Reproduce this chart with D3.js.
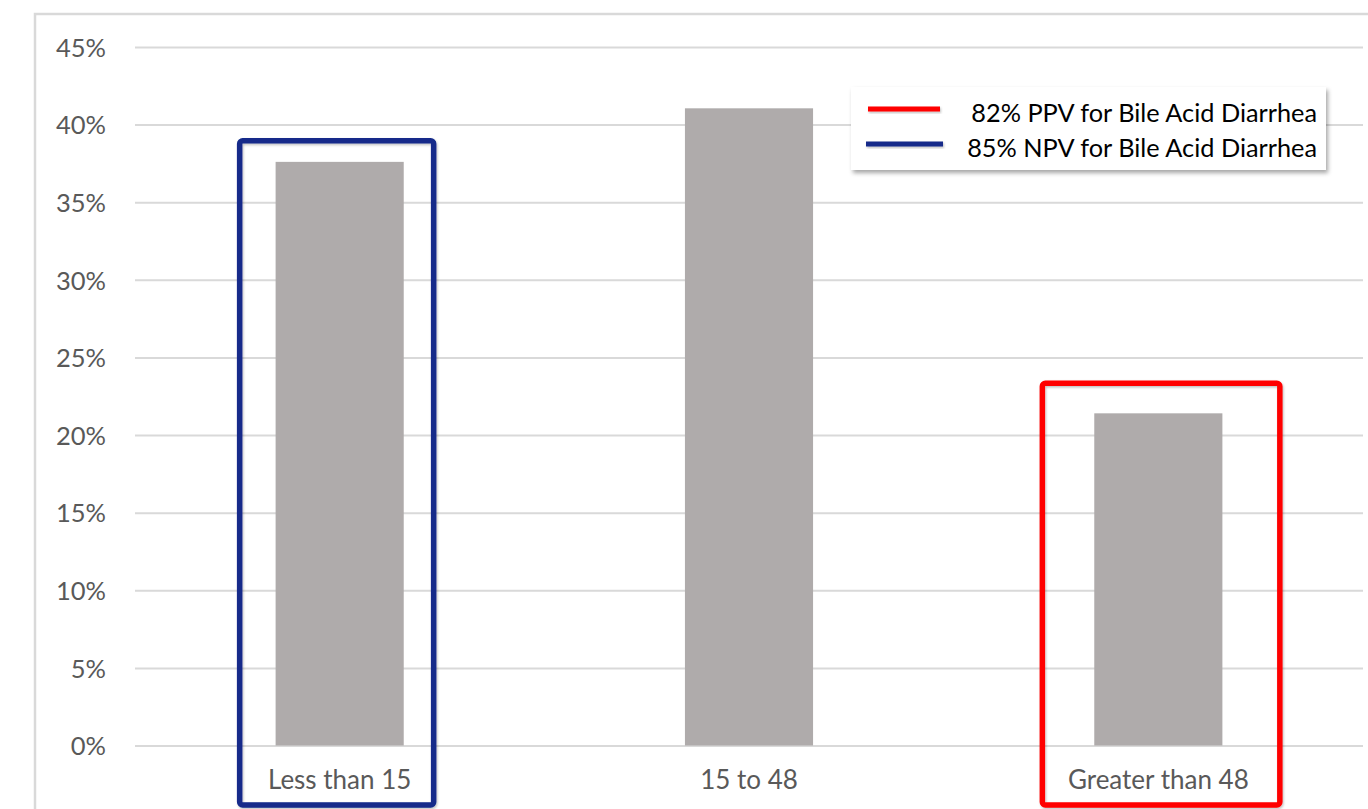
<!DOCTYPE html>
<html>
<head>
<meta charset="utf-8">
<script src="https://cdn.jsdelivr.net/npm/d3@7"></script>
<style>
  html, body { margin: 0; padding: 0; background: #fff; overflow: hidden; }
  svg { display: block; }
</style>
</head>
<body>
<svg id="chart" width="1368" height="809"></svg>
<script>
// Share of patients by category
const categories = ["Less than 15", "15 to 48", "Greater than 48"];
const shares = [0.376, 0.4105, 0.214];
const tickValues = [0, 0.05, 0.10, 0.15, 0.20, 0.25, 0.30, 0.35, 0.40, 0.45];

// Highlight boxes and legend entries
const legendLabels = ["82% PPV for Bile Acid Diarrhea", "85% NPV for Bile Acid Diarrhea"];
const legendColors = ["#ff0000", "#12298a"];
const boxedCategories = ["Less than 15", "Greater than 48"];
const boxColors = ["#12298a", "#ff0000"];

const W = 1368, H = 809;
const plot = { left: 135, right: 1363, top: 47, bottom: 745.5 };
const svg = d3.select("#chart");

const defs = svg.append("defs");
const sh = defs.append("filter").attr("id", "shadow")
  .attr("x", "-10%").attr("y", "-10%").attr("width", "130%").attr("height", "140%");
sh.append("feDropShadow").attr("dx", 2).attr("dy", 3).attr("stdDeviation", 2)
  .attr("flood-color", "#000").attr("flood-opacity", 0.35);
const sh2 = defs.append("filter").attr("id", "softshadow")
  .attr("x", "-10%").attr("y", "-10%").attr("width", "120%").attr("height", "150%");
sh2.append("feDropShadow").attr("dx", 1).attr("dy", 1.5).attr("stdDeviation", 1)
  .attr("flood-color", "#000").attr("flood-opacity", 0.25);

// Chart frame (top and left edges)
svg.append("path")
  .attr("d", `M35,${H} L35,14 L${W},14`)
  .attr("fill", "none").attr("stroke", "#d9d9d9").attr("stroke-width", 2.5);

const x = d3.scaleBand().domain(categories).range([plot.left, plot.right])
  .paddingInner(0.687).paddingOuter(0.3435);
const y = d3.scaleLinear().domain([0, 0.45]).range([plot.bottom, plot.top]);

// Gridlines + y labels
const yAxis = svg.append("g")
  .attr("transform", `translate(${plot.left},0)`)
  .call(d3.axisLeft(y).tickValues(tickValues)
    .tickSize(-(plot.right - plot.left))
    .tickPadding(29)
    .tickFormat(d3.format(".0%")));
yAxis.select(".domain").remove();
yAxis.selectAll(".tick line").attr("stroke", "#d9d9d9").attr("stroke-width", 2);
yAxis.selectAll(".tick text")
  .attr("fill", "#595959").attr("font-family", "Lato, 'Open Sans', sans-serif")
  .attr("font-size", 25.5).attr("dy", "0.36em");

// Bars
svg.append("g").selectAll("rect")
  .data(categories)
  .join("rect")
  .attr("x", d => x(d))
  .attr("width", x.bandwidth())
  .attr("y", (d, i) => y(shares[i]))
  .attr("height", (d, i) => y(0) - y(shares[i]))
  .attr("fill", "#afabab");

// Category labels
const xAxis = svg.append("g")
  .attr("transform", `translate(0,${plot.bottom})`)
  .call(d3.axisBottom(x).tickSize(0).tickPadding(25));
xAxis.select(".domain").remove();
xAxis.selectAll(".tick text")
  .attr("fill", "#595959").attr("font-family", "Lato, 'Open Sans', sans-serif")
  .attr("font-size", 26);

// Highlight boxes around categories
const boxLayout = {
  "Less than 15": { left: -100, right: 94, above: 21 },
  "Greater than 48": { left: -116, right: 121.5, above: 30 }
};
svg.append("g").selectAll("rect")
  .data(boxedCategories)
  .join("rect")
  .attr("x", d => x(d) + x.bandwidth() / 2 + boxLayout[d].left)
  .attr("width", d => boxLayout[d].right - boxLayout[d].left)
  .attr("y", d => y(shares[categories.indexOf(d)]) - boxLayout[d].above)
  .attr("height", d => 805 - (y(shares[categories.indexOf(d)]) - boxLayout[d].above))
  .attr("rx", 3)
  .attr("fill", "none")
  .attr("stroke", (d, i) => boxColors[i])
  .attr("stroke-width", 5.5)
  .attr("filter", "url(#softshadow)");

// Legend
const lg = svg.append("g").attr("transform", "translate(851,87)");
lg.append("rect").attr("width", 475).attr("height", 83)
  .attr("fill", "#fff").attr("filter", "url(#shadow)");
const items = lg.selectAll("g.item")
  .data(legendLabels)
  .join("g").attr("class", "item")
  .attr("transform", (d, i) => `translate(0,${22 + i * 35})`);
items.append("rect")
  .attr("x", (d, i) => i === 0 ? 17 : 15)
  .attr("y", -2.5)
  .attr("width", (d, i) => i === 0 ? 72 : 77)
  .attr("height", 5)
  .attr("fill", (d, i) => legendColors[i])
  .attr("filter", "url(#softshadow)");
items.append("text")
  .attr("x", 466).attr("y", 12.5)
  .attr("text-anchor", "end")
  .attr("fill", "#000")
  .attr("font-family", "Lato, 'Open Sans', sans-serif")
  .attr("font-size", 25.3)
  .text(d => d);
</script>
</body>
</html>
